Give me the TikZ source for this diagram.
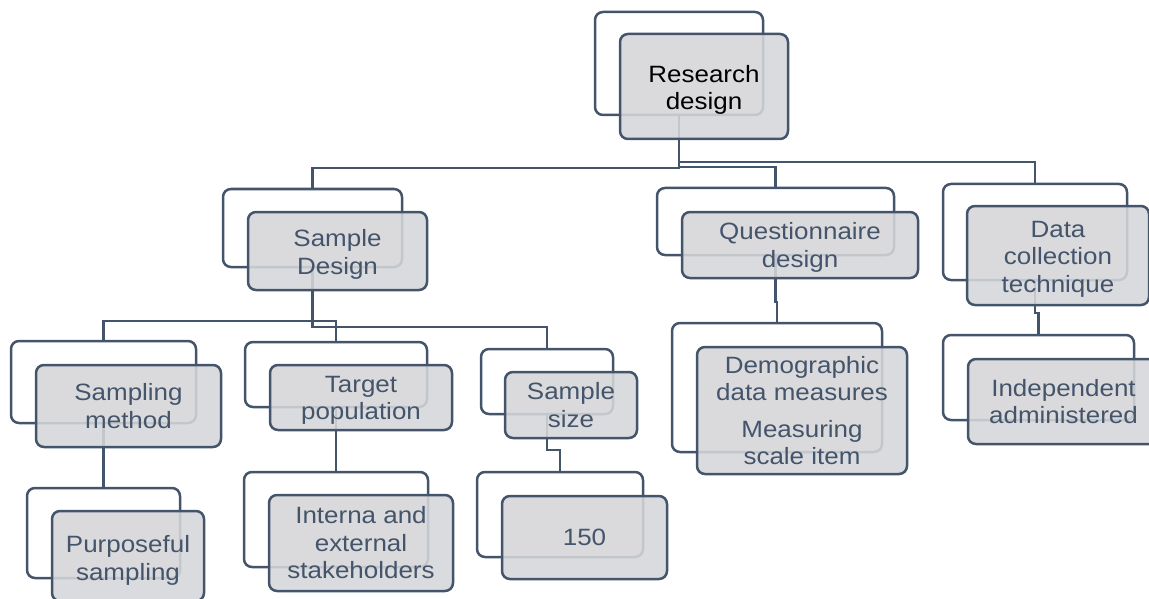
\documentclass[tikz,border=0pt]{standalone}
\usepackage{fontspec}
\setmainfont{Liberation Sans}[FakeStretch=1.1]
\definecolor{edge}{HTML}{44546A}
\definecolor{boxfill}{HTML}{D5D6D9}
\begin{document}
\begin{tikzpicture}[x=1pt,y=-1pt,
  backbox/.style={draw=edge, line width=2.5pt, rounded corners=8pt, fill=white, inner sep=0pt},
  frontbox/.style={draw=edge, line width=2.5pt, rounded corners=8pt, fill=boxfill, fill opacity=0.88, text opacity=1, text=edge, align=center, inner sep=0pt, font=\fontsize{23.6}{27.5}\selectfont},
  lower/.style={execute at begin node={\rule{0pt}{#1}}},
  conn/.style={draw=edge, line width=2.6pt}]
\useasboundingbox (0,0) rectangle (1149,599);

% back boxes
\node[backbox, minimum width=168pt, minimum height=103pt] (bRD) at (679,63.5) {};
\node[backbox, minimum width=179pt, minimum height=78pt] (bSD) at (312.5,228) {};
\node[backbox, minimum width=237pt, minimum height=67pt] (bQD) at (775.5,221.5) {};
\node[backbox, minimum width=184pt, minimum height=96pt] (bDC) at (1035,232) {};
\node[backbox, minimum width=185pt, minimum height=82pt] (bSM) at (103.5,382) {};
\node[backbox, minimum width=182pt, minimum height=65pt] (bTP) at (336,374.5) {};
\node[backbox, minimum width=132pt, minimum height=65pt] (bSS) at (547,381.5) {};
\node[backbox, minimum width=153pt, minimum height=90pt] (bPS) at (103.5,533) {};
\node[backbox, minimum width=184pt, minimum height=95pt] (bIE) at (336,519.5) {};
\node[backbox, minimum width=166pt, minimum height=85pt] (bN) at (560,514.5) {};
\node[backbox, minimum width=210pt, minimum height=129pt] (bDM) at (777,387.5) {};
\node[backbox, minimum width=191pt, minimum height=85pt] (bIA) at (1038.5,377.5) {};

% junction levels
\coordinate (hSD) at (0,168);
\coordinate (hQD) at (0,167);
\coordinate (hDC) at (0,162);
\coordinate (hSM) at (0,321);
\coordinate (hSS) at (0,327);
\coordinate (hN) at (0,450);
\coordinate (hDM) at (0,302);
\coordinate (hIA) at (0,313);

% connectors
\draw[conn] (bRD.south) -- (bRD.south |- hSD) -| (bSD.north);
\draw[conn] (bRD.south) -- (bRD.south |- hQD) -| (bQD.north);
\draw[conn] (bRD.south) -- (bRD.south |- hDC) -| (bDC.north);
\draw[conn] (bSD.south) -- (bSD.south |- hSM) -| (bSM.north);
\draw[conn] (bSD.south) -- (bSD.south |- hSM) -| (bTP.north);
\draw[conn] (bSD.south) -- (bSD.south |- hSS) -| (bSS.north);
\draw[conn] (bSM.south) -- (bPS.north);
\draw[conn] (bTP.south) -- (bIE.north);
\draw[conn] (bSS.south) -- (bSS.south |- hN) -| (bN.north);
\draw[conn] (bQD.south) -- (bQD.south |- hDM) -| (bDM.north);
\draw[conn] (bDC.south) -- (bDC.south |- hIA) -| (bIA.north);

% front boxes
\node[frontbox, text=black, lower=51pt, minimum width=168pt, minimum height=105pt] (fRD) at (704,86.5) {Research\\design};
\node[frontbox, lower=51pt, minimum width=179pt, minimum height=78pt] (fSD) at (337.5,251) {Sample\\Design};
\node[frontbox, lower=49pt, minimum width=236pt, minimum height=66pt] (fQD) at (800,245) {Questionnaire\\design};
\node[frontbox, lower=78.5pt, minimum width=182pt, minimum height=99pt] (fDC) at (1058,255.5) {Data\\collection\\technique};
\node[frontbox, minimum width=185pt, minimum height=82pt] (fSM) at (128.5,406) {Sampling\\method};
\node[frontbox, lower=49pt, minimum width=182pt, minimum height=65pt] (fTP) at (361,397.5) {Target\\population};
\node[frontbox, minimum width=132pt, minimum height=66pt] (fSS) at (571,405) {Sample\\size};
\node[frontbox, lower=53pt, minimum width=152pt, minimum height=90pt] (fPS) at (128,556) {Purposeful\\sampling};
\node[frontbox, minimum width=184pt, minimum height=96pt] (fIE) at (361,543) {Interna and\\external\\stakeholders};
\node[frontbox, minimum width=165pt, minimum height=83pt] (fN) at (584.5,537.5) {150};
\node[frontbox, minimum width=210pt, minimum height=127pt] (fDM) at (802,410.5) {Demographic\\data measures\\[9pt]Measuring\\scale item};
\node[frontbox, minimum width=191pt, minimum height=85pt] (fIA) at (1063.5,401.5) {Independent\\administered};
\end{tikzpicture}
\end{document}
